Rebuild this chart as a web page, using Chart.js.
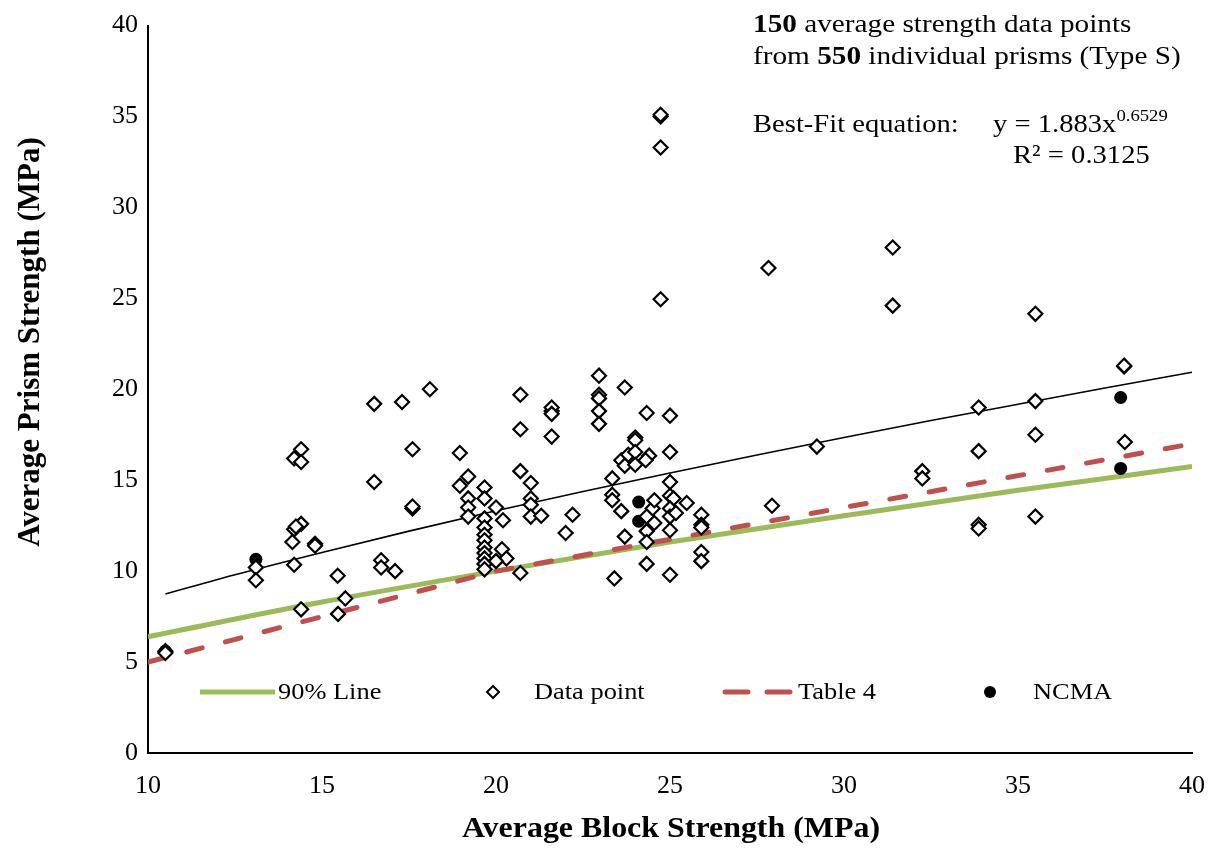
<!DOCTYPE html>
<html>
<head>
<meta charset="utf-8">
<script src="https://cdn.jsdelivr.net/npm/chart.js@4.4.0/dist/chart.umd.min.js"></script>
<style>
  html, body { margin: 0; padding: 0; background: #fff; }
  #wrap { width: 1213px; height: 850px; }
</style>
</head>
<body>
<div id="wrap"><canvas id="chart" width="1213" height="850"></canvas></div>
<script>
// block strength (x) and prism strength (y) of the averaged data points, MPa
const dataX = [10.5, 10.5, 13.1, 13.1, 14.2, 14.4, 14.4, 14.2, 14.4, 14.25, 14.15, 14.8, 14.8, 14.2, 14.4,
  15.45, 15.67, 15.46, 16.5, 16.5, 16.7, 16.7, 17.1, 17.3, 17.6, 17.6, 17.6, 18.1, 18.96, 18.96,
  19.2, 19.2, 19.2, 19.2, 19.67, 19.67, 19.67, 19.67, 19.67, 19.67, 19.67, 19.67, 19.67, 19.67, 19.67,
  20.0, 20.17, 20.3, 20.0, 20.2, 20.7, 20.7, 20.7, 20.7, 21.0, 21.0, 21.0, 21.0, 21.3, 21.6,
  21.6, 21.6, 21.6, 22.0, 22.2, 22.96, 22.96, 22.96, 22.96, 22.96, 23.34, 23.34, 23.34, 23.4, 23.6,
  23.6, 23.7, 23.7, 23.8, 23.7, 24.0, 24.0, 24.0, 24.0, 24.33, 24.4, 24.3, 24.5, 24.55, 24.33,
  24.55, 24.33, 24.33, 24.33, 24.73, 24.73, 24.73, 24.73, 25.0, 25.0, 25.0, 25.0, 25.1, 25.0, 25.0,
  25.17, 25.0, 25.0, 25.48, 25.9, 25.9, 25.9, 25.9, 25.9, 27.83, 27.93, 29.22, 31.4, 31.4, 32.25,
  32.25, 33.87, 33.87, 33.87, 33.87, 35.5, 35.5, 35.5, 35.5, 38.05, 38.05, 38.07];
const dataY = [5.6, 5.5, 10.2, 9.5, 16.2, 16.7, 16.0, 12.3, 12.6, 12.45, 11.6, 11.5, 11.4, 10.35, 7.9,
  9.75, 8.5, 7.65, 19.2, 14.9, 10.6, 10.2, 10.0, 19.3, 16.7, 13.45, 13.55, 20.0, 16.5, 14.7,
  15.2, 14.0, 13.5, 13.0, 14.6, 14.0, 12.9, 12.4, 12.0, 11.7, 11.3, 11.0, 10.7, 10.4, 10.1,
  13.5, 11.2, 10.7, 10.55, 12.8, 19.7, 17.8, 15.5, 9.9, 14.85, 14.0, 13.65, 13.0, 13.05, 18.8,
  19.0, 18.65, 17.4, 12.1, 13.1, 20.75, 19.7, 19.5, 18.8, 18.1, 15.1, 14.2, 13.9, 9.6, 16.1,
  13.3, 20.1, 11.9, 16.4, 15.8, 17.35, 17.2, 16.55, 15.85, 18.7, 16.35, 16.1, 13.45, 13.9, 13.0,
  12.65, 12.2, 11.6, 10.4, 35.0, 35.1, 33.3, 24.95, 18.55, 16.55, 14.9, 14.15, 14.0, 13.45, 13.0,
  13.2, 12.25, 9.8, 13.75, 13.1, 12.55, 12.4, 11.05, 10.55, 26.67, 13.6, 16.85, 27.8, 24.6, 15.5,
  15.1, 19.0, 16.6, 12.55, 12.35, 24.15, 19.35, 17.5, 13.0, 21.25, 21.3, 17.1];

const ncmaX = [10.5, 13.1, 24.1, 24.1, 37.95, 37.95];
const ncmaY = [5.6, 10.65, 13.8, 12.75, 19.55, 15.65];

// best-fit curve
const fitX = [10.5, 12.5, 15, 17.5, 20, 22.5, 25, 27.5, 30, 32.5, 35, 37.5, 40];
const fitY = [8.74, 9.8, 11.03, 12.2, 13.32, 14.38, 15.4, 16.39, 17.35, 18.28, 19.18, 20.07, 20.94];

const pct90X = [10, 15, 20, 25, 30, 35, 40];
const pct90Y = [6.4, 8.3, 10.0, 11.6, 13.05, 14.45, 15.75];

const table4X = [10, 20, 30, 40];
const table4Y = [5.0, 10.0, 13.5, 17.0];

const legendLabels = ['90% Line', 'Data point', 'Table 4', 'NCMA'];

const GREEN = '#9bbb59';
const RED = '#c0504d';
const SERIF = '"Liberation Serif", "Times New Roman", serif';

function pts(xs, ys) {
  return xs.map((x, i) => ({ x: x, y: ys[i] }));
}

// draws a run of text pieces, stretched a little sideways like the original
function drawRuns(ctx, runs, x, y, sx) {
  ctx.save();
  ctx.translate(x, y);
  ctx.scale(sx, 1);
  let cx = 0;
  runs.forEach(r => {
    ctx.font = r.font;
    ctx.fillText(r.text, cx, r.dy || 0);
    cx += ctx.measureText(r.text).width;
  });
  ctx.restore();
}

const extras = {
  id: 'extras',
  afterDraw(chart) {
    const ctx = chart.ctx;
    const reg = '26px ' + SERIF;
    const bold = 'bold 26px ' + SERIF;
    ctx.save();
    ctx.fillStyle = '#000';
    ctx.textBaseline = 'alphabetic';
    ctx.textAlign = 'left';

    // note in the top right corner
    drawRuns(ctx, [{ text: '150', font: bold }, { text: ' average strength data points', font: reg }], 753, 32, 1.125);
    drawRuns(ctx, [{ text: 'from ', font: reg }, { text: '550', font: bold }, { text: ' individual prisms (Type S)', font: reg }], 753, 64, 1.125);
    drawRuns(ctx, [{ text: 'Best-Fit equation:', font: reg }], 753, 132, 1.1);
    drawRuns(ctx, [{ text: 'y = 1.883x', font: reg }, { text: '0.6529', font: '17px ' + SERIF, dy: -11 }], 993, 132, 1.1);
    drawRuns(ctx, [{ text: 'R\u00b2 = 0.3125', font: reg }], 1013, 163, 1.1);

    // axis titles
    ctx.save();
    ctx.translate(671, 830);
    ctx.scale(1.12, 1);
    ctx.font = 'bold 28.5px ' + SERIF;
    ctx.textAlign = 'center';
    ctx.textBaseline = 'middle';
    ctx.fillText('Average Block Strength (MPa)', 0, 0);
    ctx.restore();

    ctx.save();
    ctx.translate(31, 342);
    ctx.rotate(-Math.PI / 2);
    ctx.font = 'bold 31px ' + SERIF;
    ctx.textAlign = 'center';
    ctx.textBaseline = 'middle';
    ctx.fillText('Average Prism Strength (MPa)', 0, 0);
    ctx.restore();

    // legend inside the plot
    const ly = 692;
    const lfont = '24px ' + SERIF;
    ctx.lineCap = 'butt';
    ctx.strokeStyle = GREEN;
    ctx.lineWidth = 5;
    ctx.beginPath();
    ctx.moveTo(200, ly);
    ctx.lineTo(275, ly);
    ctx.stroke();

    ctx.strokeStyle = '#000';
    ctx.fillStyle = '#fff';
    ctx.lineWidth = 2;
    ctx.beginPath();
    ctx.moveTo(493, ly - 6);
    ctx.lineTo(499, ly);
    ctx.lineTo(493, ly + 6);
    ctx.lineTo(487, ly);
    ctx.closePath();
    ctx.fill();
    ctx.stroke();

    ctx.strokeStyle = RED;
    ctx.lineWidth = 5;
    ctx.lineCap = 'round';
    ctx.beginPath();
    ctx.moveTo(725, ly);
    ctx.lineTo(748, ly);
    ctx.moveTo(767, ly);
    ctx.lineTo(790, ly);
    ctx.stroke();

    ctx.fillStyle = '#000';
    ctx.beginPath();
    ctx.arc(990, ly, 6, 0, Math.PI * 2);
    ctx.fill();

    ctx.textBaseline = 'middle';
    const lx = [278, 534, 798, 1033];
    legendLabels.forEach((t, i) => {
      drawRuns(ctx, [{ text: t, font: lfont }], lx[i], ly + 1, 1.1);
    });
    ctx.restore();
  }
};

const tickFont = { family: SERIF, size: 26 };

new Chart(document.getElementById('chart'), {
  type: 'scatter',
  data: {
    datasets: [
      {
        label: 'Data point',
        data: pts(dataX, dataY),
        pointStyle: 'rectRot',
        pointRadius: 7,
        pointBorderWidth: 2.2,
        pointBackgroundColor: '#fff',
        pointBorderColor: '#000',
        order: 0
      },
      {
        label: 'NCMA',
        data: pts(ncmaX, ncmaY),
        pointStyle: 'circle',
        pointRadius: 6.5,
        pointBorderWidth: 0,
        pointBackgroundColor: '#000',
        order: 1
      },
      {
        label: 'Best fit',
        data: pts(fitX, fitY),
        showLine: true,
        pointRadius: 0,
        borderColor: '#000',
        borderWidth: 1.6,
        cubicInterpolationMode: 'monotone',
        order: 2
      },
      {
        label: 'Table 4',
        data: pts(table4X, table4Y),
        showLine: true,
        pointRadius: 0,
        borderColor: RED,
        borderWidth: 5,
        borderDash: [16, 24],
        borderCapStyle: 'round',
        order: 3
      },
      {
        label: '90% Line',
        data: pts(pct90X, pct90Y),
        showLine: true,
        pointRadius: 0,
        borderColor: GREEN,
        borderWidth: 5,
        cubicInterpolationMode: 'monotone',
        order: 4
      }
    ]
  },
  options: {
    responsive: false,
    animation: false,
    layout: { padding: { top: 20, right: 21, left: 0, bottom: 0 } },
    plugins: {
      legend: { display: false },
      tooltip: { enabled: false }
    },
    scales: {
      x: {
        type: 'linear',
        min: 10,
        max: 40,
        ticks: { stepSize: 5, font: tickFont, color: '#000', padding: 18, maxRotation: 0 },
        grid: { display: false, drawTicks: false },
        border: { color: '#000', width: 2 },
        afterFit(scale) {
          scale.height = 97;
          scale.paddingLeft = 0;
          scale.paddingRight = 0;
        }
      },
      y: {
        type: 'linear',
        min: 0,
        max: 40,
        ticks: { stepSize: 5, font: tickFont, color: '#000', padding: 10 },
        grid: { display: false, drawTicks: false },
        border: { color: '#000', width: 2 },
        afterFit(scale) { scale.width = 148; }
      }
    }
  },
  plugins: [extras]
});
</script>
</body>
</html>
